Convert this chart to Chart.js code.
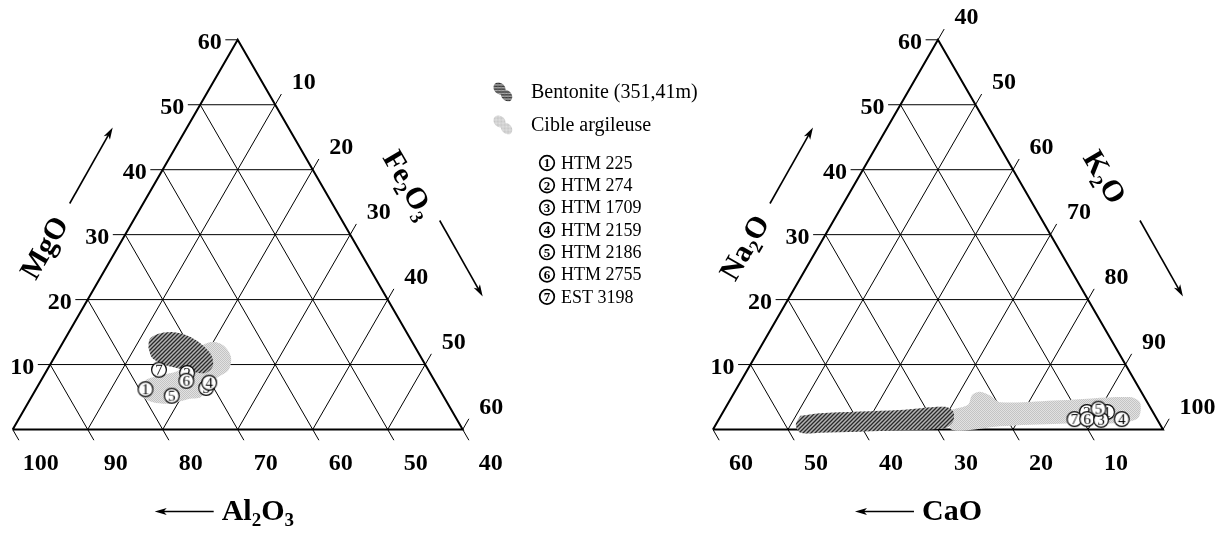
<!DOCTYPE html>
<html>
<head>
<meta charset="utf-8">
<script src="https://cdn.jsdelivr.net/npm/chart.js@4.4.0/dist/chart.umd.min.js"></script>
<style>
  html, body { margin: 0; padding: 0; background: #fff; }
  #wrap { width: 1218px; height: 534px; }
</style>
</head>
<body>
<div id="wrap"><canvas id="ternary" width="1218" height="534"></canvas></div>
<script>
// samples (legend order)
const sampleNames = ['HTM 225', 'HTM 274', 'HTM 1709', 'HTM 2159', 'HTM 2186', 'HTM 2755', 'EST 3198'];

// left diagram : MgO - Fe2O3 - Al2O3 (%)
const leftMgO   = [6.2, 8.7, 6.4, 7.2, 5.2, 7.5, 9.2];
const leftFe2O3 = [14.6, 18.9, 22.6, 22.6, 18.6, 19.4, 14.9];

// right diagram : Na2O - K2O - CaO (%)
const rightNa2O = [2.7, 2.7, 1.5, 1.6, 3.2, 1.6, 1.6];
const rightK2O  = [91.2, 88.5, 91.0, 93.7, 89.8, 89.1, 87.4];

// fields (outlines)
const bentoniteMgO   = [12.6, 13.9, 14.7, 15.0, 14.4, 13.2, 11.5, 9.8, 8.7, 8.9, 9.5, 10.1, 11.0, 12.6];
const bentoniteFe2O3 = [11.8, 11.3, 12.0, 13.7, 16.2, 18.5, 20.7, 21.8, 21.4, 19.5, 17.0, 14.9, 13.1, 11.8];
const cibleMgO   = [12.8, 13.5, 12.9, 11.2, 9.2, 7.9, 6.8, 5.0, 4.7, 4.0, 4.2, 5.2, 7.4, 8.3, 9.0, 10.6, 12.8];
const cibleFe2O3 = [18.5, 19.9, 21.7, 23.5, 24.2, 23.2, 22.4, 22.6, 21.1, 19.1, 16.6, 14.6, 13.8, 15.4, 17.5, 18.2, 18.5];
const bentoniteNa2O = [2.1, 2.5, 3.0, 3.5, 2.7, 1.2, 0.2, -0.1, -0.5, -0.5, 0.7, 2.1];
const bentoniteK2O  = [50.6, 53.0, 63.4, 69.2, 70.7, 71.4, 70.8, 65.0, 54.5, 51.9, 50.7, 50.6];
const cibleNa2O = [3.0, 3.8, 5.3, 5.8, 5.2, 4.2, 4.5, 5.0, 4.1, 1.8, 1.0, 0.9, 0.5, -0.2, 0.2, 3.0];
const cibleK2O  = [70.1, 72.1, 71.9, 72.7, 74.4, 76.2, 84.0, 93.1, 94.9, 95.8, 93.8, 85.9, 78.0, 73.1, 71.5, 70.1];

// tick labels
const mgoTicks   = [10, 20, 30, 40, 50, 60];
const fe2o3Ticks = [10, 20, 30, 40, 50, 60];
const al2o3Ticks = [100, 90, 80, 70, 60, 50, 40];
const na2oTicks  = [10, 20, 30, 40, 50, 60];
const k2oTicks   = [40, 50, 60, 70, 80, 90, 100];
const caoTicks   = [60, 50, 40, 30, 20, 10];

// draw order of the circles (hidden ones first)
const leftOrder  = [1, 2, 0, 4, 6, 5, 3];
const rightOrder = [0, 1, 6, 5, 2, 3, 4];

const H = Math.sqrt(3) / 2;
const RIGHT_SHIFT = 93.37;
const TICK = 1.65;

// a = top component, b = right component (both 0..60 inside the triangle)
function tern(a, b, shift) {
    return { x: shift + b + a / 2, y: a * H };
}
const gap = { x: null, y: null };

function triangle(shift, leftB, rightB, baseB) {
    const grid = [], frame = [], ticks = [];
    for (let v = 10; v < 60; v += 10) {
        grid.push(tern(v, 0, shift), tern(v, 60 - v, shift), gap);
        grid.push(tern(0, v, shift), tern(60 - v, v, shift), gap);
        grid.push(tern(0, 60 - v, shift), tern(60 - v, 0, shift), gap);
    }
    frame.push(tern(0, 0, shift), tern(0, 60, shift), tern(60, 0, shift), tern(0, 0, shift));
    leftB.forEach(a => {
        const p = tern(a, 0, shift);
        ticks.push(p, { x: p.x - TICK, y: p.y }, gap);
    });
    rightB.forEach(b => {
        const p = tern(60 - b, b, shift);
        ticks.push(p, { x: p.x + TICK / 2, y: p.y + TICK * H }, gap);
    });
    baseB.forEach(b => {
        const p = tern(0, b, shift);
        ticks.push(p, { x: p.x + TICK / 2, y: p.y - TICK * H }, gap);
    });
    return { grid, frame, ticks };
}

const leftTri  = triangle(0, mgoTicks, fe2o3Ticks, al2o3Ticks.map(v => 100 - v));
const rightTri = triangle(RIGHT_SHIFT, na2oTicks, k2oTicks.map(v => v - 40), caoTicks.map(v => 60 - v));

// patterns
function hatchPattern() {
    const c = document.createElement('canvas');
    c.width = 4; c.height = 4;
    const g = c.getContext('2d');
    g.fillStyle = '#b4b4b4';
    g.fillRect(0, 0, 4, 4);
    g.strokeStyle = '#2a2a2a';
    g.lineWidth = 1.3;
    g.beginPath();
    g.moveTo(-1, 5); g.lineTo(5, -1);
    g.moveTo(-1, 1); g.lineTo(1, -1);
    g.moveTo(3, 5); g.lineTo(5, 3);
    g.stroke();
    return g.createPattern(c, 'repeat');
}
function dotPattern() {
    const c = document.createElement('canvas');
    c.width = 2; c.height = 2;
    const g = c.getContext('2d');
    g.fillStyle = '#e2e2e2';
    g.fillRect(0, 0, 2, 2);
    g.fillStyle = '#c4c4c4';
    g.fillRect(0, 0, 1, 1);
    g.fillRect(1, 1, 1, 1);
    return g.createPattern(c, 'repeat');
}
const hatch = hatchPattern();
const dots = dotPattern();

function circleMark(n) {
    const c = document.createElement('canvas');
    c.width = 18; c.height = 18;
    const g = c.getContext('2d');
    g.beginPath();
    g.arc(9, 9, 7.4, 0, Math.PI * 2);
    g.fillStyle = '#fff';
    g.fill();
    g.lineWidth = 1.2;
    g.strokeStyle = '#000';
    g.stroke();
    g.fillStyle = '#000';
    g.font = '15px "Liberation Serif"';
    g.textAlign = 'center';
    g.textBaseline = 'middle';
    g.fillText(String(n), 9, 9.8);
    return c;
}
const marks = sampleNames.map((s, i) => circleMark(i + 1));

function field(tops, rights, shift, offset) {
    return tops.map((a, i) => tern(a, rights[i] - offset, shift));
}

function lineSet(data, width, order) {
    return {
        data, showLine: true, borderColor: '#000', borderWidth: width,
        pointRadius: 0, fill: false, order
    };
}
function fieldSet(data, bg, order) {
    return {
        data, showLine: true, borderWidth: 0, borderColor: 'rgba(0,0,0,0)',
        backgroundColor: bg, fill: 'shape', tension: 0.3, pointRadius: 0, order
    };
}
function sampleSet(order, tops, rights, shift, offset) {
    return {
        data: order.map(i => ({ ...tern(tops[i], rights[i] - offset, shift), n: i })),
        pointStyle: ctx => marks[ctx.raw.n],
        pointRadius: 8, showLine: false, order: 1
    };
}

// text helpers
function drawChem(ctx, str, x, y, size, angle, align) {
    const parts = [];
    for (let i = 0; i < str.length; i++) {
        if (str[i] === '_') { parts.push({ t: str[i + 1], sub: true }); i++; }
        else parts.push({ t: str[i], sub: false });
    }
    const big = 'bold ' + size + 'px "Liberation Serif"';
    const small = 'bold ' + Math.round(size * 0.62) + 'px "Liberation Serif"';
    let w = 0;
    parts.forEach(p => { ctx.font = p.sub ? small : big; p.w = ctx.measureText(p.t).width; w += p.w; });
    ctx.save();
    ctx.translate(x, y);
    ctx.rotate(angle);
    ctx.textBaseline = 'middle';
    ctx.textAlign = 'left';
    ctx.fillStyle = '#000';
    let cx = align === 'center' ? -w / 2 : 0;
    parts.forEach(p => {
        ctx.font = p.sub ? small : big;
        ctx.fillText(p.t, cx, p.sub ? size * 0.3 : 0);
        cx += p.w;
    });
    ctx.restore();
}
function arrow(ctx, x1, y1, x2, y2) {
    const ang = Math.atan2(y2 - y1, x2 - x1);
    ctx.save();
    ctx.strokeStyle = '#000';
    ctx.fillStyle = '#000';
    ctx.lineWidth = 1.6;
    ctx.beginPath();
    ctx.moveTo(x1, y1);
    ctx.lineTo(x2 - 6 * Math.cos(ang), y2 - 6 * Math.sin(ang));
    ctx.stroke();
    ctx.translate(x2, y2);
    ctx.rotate(ang);
    ctx.beginPath();
    ctx.moveTo(0, 0);
    ctx.lineTo(-12, -3.6);
    ctx.lineTo(-9, 0);
    ctx.lineTo(-12, 3.6);
    ctx.closePath();
    ctx.fill();
    ctx.restore();
}
function blob(ctx, x, y, fill) {
    ctx.save();
    ctx.fillStyle = fill;
    ctx.translate(x, y);
    ctx.rotate(Math.PI / 4);
    ctx.beginPath();
    ctx.ellipse(-5, 0, 6.5, 5.5, 0, 0, Math.PI * 2);
    ctx.ellipse(5, 0, 6.5, 5, 0, 0, Math.PI * 2);
    ctx.fill();
    ctx.restore();
}
function circledNumber(ctx, n, x, y) {
    ctx.save();
    ctx.beginPath();
    ctx.arc(x, y, 7.3, 0, Math.PI * 2);
    ctx.lineWidth = 1.7;
    ctx.strokeStyle = '#000';
    ctx.stroke();
    ctx.fillStyle = '#000';
    ctx.font = 'bold 13px "Liberation Serif"';
    ctx.textAlign = 'center';
    ctx.textBaseline = 'middle';
    ctx.fillText(String(n), x, y + 1);
    ctx.restore();
}

const labelPlugin = {
    id: 'ternaryLabels',
    afterDraw(chart) {
        const ctx = chart.ctx;
        const X = v => chart.scales.x.getPixelForValue(v);
        const Y = v => chart.scales.y.getPixelForValue(v);
        const tickFont = 'bold 24px "Liberation Serif"';

        function axisLabels(shift, leftT, leftA, rightT, rightB, baseT, baseB) {
            ctx.save();
            ctx.fillStyle = '#000';
            ctx.font = tickFont;
            ctx.textBaseline = 'middle';
            ctx.textAlign = 'right';
            leftT.forEach((t, i) => {
                const p = tern(leftA[i], 0, shift);
                ctx.fillText(String(t), X(p.x) - 16, Y(p.y) + 3.5);
            });
            ctx.textAlign = 'left';
            rightT.forEach((t, i) => {
                const p = tern(60 - rightB[i], rightB[i], shift);
                ctx.fillText(String(t), X(p.x) + 16.5, Y(p.y) - 22);
            });
            ctx.textAlign = 'center';
            baseT.forEach((t, i) => {
                const p = tern(0, baseB[i], shift);
                ctx.fillText(String(t), X(p.x) + 28, Y(p.y) + 34);
            });
            ctx.restore();
        }
        axisLabels(0, mgoTicks, mgoTicks, fe2o3Ticks, fe2o3Ticks,
            al2o3Ticks, al2o3Ticks.map(v => 100 - v));
        axisLabels(RIGHT_SHIFT, na2oTicks, na2oTicks, k2oTicks, k2oTicks.map(v => v - 40),
            caoTicks, caoTicks.map(v => 60 - v));

        // axis titles and arrows, placed from each triangle's corner
        function titles(shift, leftName, rightName, baseName) {
            const ox = X(shift), oy = Y(0);
            drawChem(ctx, leftName, ox + 33, oy - 181, 30, -Math.PI / 3, 'center');
            drawChem(ctx, rightName, ox + 376, oy - 276, 30, Math.PI / 3, 'left');
            drawChem(ctx, baseName, ox + 209, oy + 83, 30, 0, 'left');
            arrow(ctx, ox + 57, oy - 226, ox + 100, oy - 302);
            arrow(ctx, ox + 427, oy - 209, ox + 470, oy - 133);
            arrow(ctx, ox + 201, oy + 82, ox + 142, oy + 82);
        }
        titles(0, 'MgO', 'Fe_2O_3', 'Al_2O_3');
        titles(RIGHT_SHIFT, 'Na_2O', 'K_2O', 'CaO');

        // legend
        ctx.save();
        blob(ctx, 503, 92, hatch);
        blob(ctx, 503, 125, dots);
        ctx.fillStyle = '#000';
        ctx.textBaseline = 'middle';
        ctx.textAlign = 'left';
        ctx.font = '20px "Liberation Serif"';
        ctx.fillText('Bentonite (351,41m)', 531, 93);
        ctx.fillText('Cible argileuse', 531, 126);
        sampleNames.forEach((s, i) => {
            const y = 163 + i * 22.3;
            circledNumber(ctx, i + 1, 547, y);
            ctx.fillStyle = '#000';
            ctx.textAlign = 'left';
            ctx.textBaseline = 'middle';
            ctx.font = '18px "Liberation Serif"';
            ctx.fillText(s, 561, y + 1);
        });
        ctx.restore();
    }
};

new Chart(document.getElementById('ternary'), {
    type: 'scatter',
    data: {
        datasets: [
            sampleSet(leftOrder, leftMgO, leftFe2O3, 0, 0),
            sampleSet(rightOrder, rightNa2O, rightK2O, RIGHT_SHIFT, 40),
            fieldSet(field(bentoniteMgO, bentoniteFe2O3, 0, 0), hatch, 2),
            fieldSet(field(bentoniteNa2O, bentoniteK2O, RIGHT_SHIFT, 40), hatch, 2),
            fieldSet(field(cibleMgO, cibleFe2O3, 0, 0), dots, 3),
            fieldSet(field(cibleNa2O, cibleK2O, RIGHT_SHIFT, 40), dots, 3),
            lineSet(leftTri.frame, 2, 4),
            lineSet(rightTri.frame, 2, 4),
            lineSet(leftTri.grid, 1, 5),
            lineSet(rightTri.grid, 1, 5),
            lineSet(leftTri.ticks, 1, 5),
            lineSet(rightTri.ticks, 1, 5)
        ]
    },
    options: {
        responsive: false,
        animation: false,
        devicePixelRatio: 1,
        layout: { padding: 0, autoPadding: false },
        scales: {
            x: { type: 'linear', min: -1.693, max: 160.707, display: false },
            y: { type: 'linear', min: -13.933, max: 57.267, display: false }
        },
        plugins: {
            legend: { display: false },
            tooltip: { enabled: false }
        }
    },
    plugins: [labelPlugin]
});
</script>
</body>
</html>
